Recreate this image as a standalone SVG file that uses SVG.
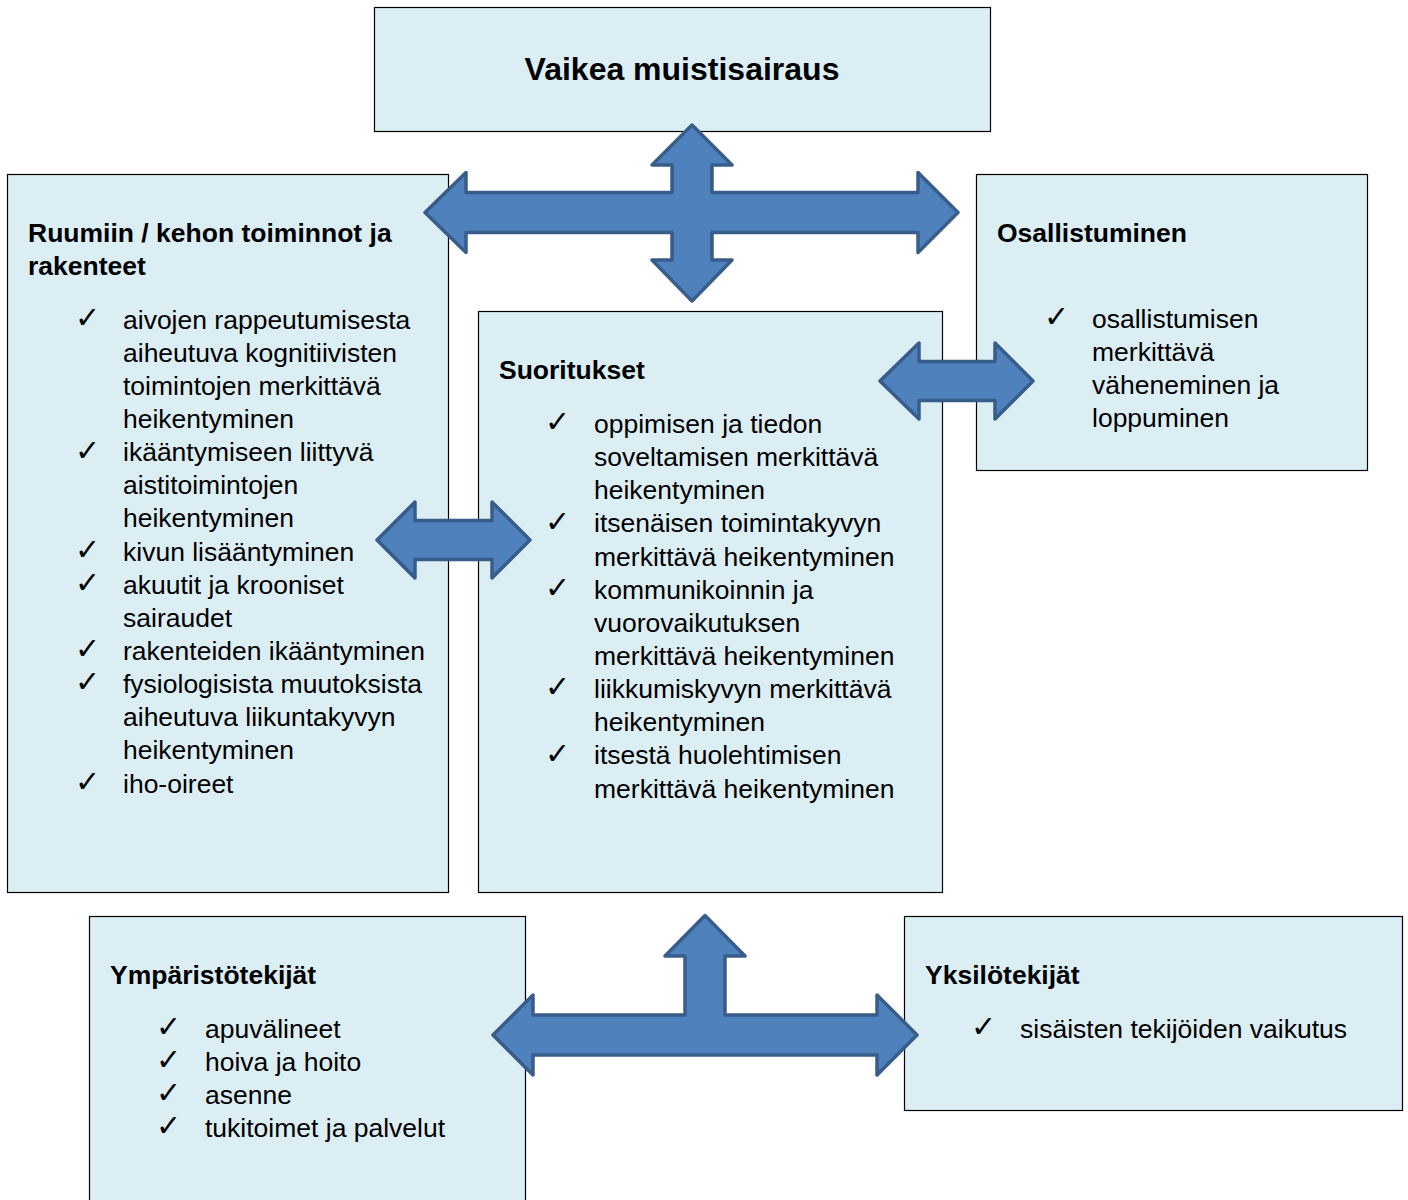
<svg xmlns="http://www.w3.org/2000/svg" width="1408" height="1200" viewBox="0 0 1408 1200">
<style>
.box{fill:#dbeef4;stroke:#000;stroke-width:1.2}
.arrow{fill:#4f81bd;stroke:#385d8a;stroke-width:3.5;stroke-linejoin:round}
text{font-family:"Liberation Sans",Arial,sans-serif;fill:#000}
.title{font-size:32px;font-weight:bold}
.h{font-size:26.5px;font-weight:bold}
.t{font-size:26.5px}
.ck{font-family:"DejaVu Sans",sans-serif;font-size:30px}
</style>
<rect width="1408" height="1200" fill="#fff"/>
<g id="node-title">
<rect class="box" x="374.5" y="7.5" width="616" height="124"/>
<text class="title" x="682" y="80" text-anchor="middle">Vaikea muistisairaus</text>
</g>
<g id="node-ruumiin">
<rect class="box" x="7.5" y="174.5" width="441" height="718"/>
<text class="h" x="28" y="242">Ruumiin / kehon toiminnot ja</text>
<text class="h" x="28" y="275">rakenteet</text>
<g class="ck"><text x="75" y="328">✓</text><text x="75" y="461">✓</text><text x="75" y="560">✓</text><text x="75" y="593">✓</text><text x="75" y="659">✓</text><text x="75" y="692">✓</text><text x="75" y="792">✓</text></g>
<g class="t">
<text x="123" y="328.5">aivojen rappeutumisesta</text>
<text x="123" y="361.6">aiheutuva kognitiivisten</text>
<text x="123" y="394.8">toimintojen merkittävä</text>
<text x="123" y="427.9">heikentyminen</text>
<text x="123" y="461.1">ikääntymiseen liittyvä</text>
<text x="123" y="494.2">aistitoimintojen</text>
<text x="123" y="527.3">heikentyminen</text>
<text x="123" y="560.5">kivun lisääntyminen</text>
<text x="123" y="593.6">akuutit ja krooniset</text>
<text x="123" y="626.8">sairaudet</text>
<text x="123" y="659.9">rakenteiden ikääntyminen</text>
<text x="123" y="693">fysiologisista muutoksista</text>
<text x="123" y="726.2">aiheutuva liikuntakyvyn</text>
<text x="123" y="759.3">heikentyminen</text>
<text x="123" y="792.5">iho-oireet</text>
</g>
</g>
<g id="node-osallistuminen">
<rect class="box" x="976.5" y="174.5" width="391" height="296"/>
<text class="h" x="997" y="242">Osallistuminen</text>
<text class="ck" x="1044" y="327">✓</text>
<g class="t">
<text x="1092" y="328">osallistumisen</text>
<text x="1092" y="361.1">merkittävä</text>
<text x="1092" y="394.3">väheneminen ja</text>
<text x="1092" y="427.4">loppuminen</text>
</g>
</g>
<g id="node-suoritukset">
<rect class="box" x="478.5" y="311.5" width="464" height="581"/>
<text class="h" x="499" y="379">Suoritukset</text>
<g class="ck"><text x="545" y="432">✓</text><text x="545" y="532">✓</text><text x="545" y="598">✓</text><text x="545" y="697">✓</text><text x="545" y="764">✓</text></g>
<g class="t">
<text x="594" y="433">oppimisen ja tiedon</text>
<text x="594" y="466.1">soveltamisen merkittävä</text>
<text x="594" y="499.3">heikentyminen</text>
<text x="594" y="532.4">itsenäisen toimintakyvyn</text>
<text x="594" y="565.6">merkittävä heikentyminen</text>
<text x="594" y="598.7">kommunikoinnin ja</text>
<text x="594" y="631.8">vuorovaikutuksen</text>
<text x="594" y="665">merkittävä heikentyminen</text>
<text x="594" y="698.1">liikkumiskyvyn merkittävä</text>
<text x="594" y="731.3">heikentyminen</text>
<text x="594" y="764.4">itsestä huolehtimisen</text>
<text x="594" y="797.5">merkittävä heikentyminen</text>
</g>
</g>
<g id="node-ymparisto">
<rect class="box" x="89.5" y="916.5" width="436" height="300"/>
<text class="h" x="110" y="984">Ympäristötekijät</text>
<g class="ck"><text x="156" y="1037">✓</text><text x="156" y="1070">✓</text><text x="156" y="1103">✓</text><text x="156" y="1136">✓</text></g>
<g class="t">
<text x="205" y="1038">apuvälineet</text>
<text x="205" y="1071">hoiva ja hoito</text>
<text x="205" y="1104">asenne</text>
<text x="205" y="1137">tukitoimet ja palvelut</text>
</g>
</g>
<g id="node-yksilo">
<rect class="box" x="904.5" y="916.5" width="498" height="194"/>
<text class="h" x="925" y="984">Yksilötekijät</text>
<text class="ck" x="971" y="1037">✓</text>
<text class="t" x="1020" y="1038">sisäisten tekijöiden vaikutus</text>
</g>
<g id="connectors">
<path class="arrow" d="M425,212.5 L466,172.5 L466,192.5 L672,192.5 L672,165 L652,165 L692,125 L732,165 L712,165 L712,192.5 L918,192.5 L918,172.5 L958,212.5 L918,252.5 L918,232.5 L712,232.5 L712,260 L732,260 L692,301 L652,260 L672,260 L672,232.5 L466,232.5 L466,252.5 Z"/>
<path class="arrow" d="M377,540 L415,502 L415,520.5 L492,520.5 L492,502 L530,540 L492,578 L492,559.5 L415,559.5 L415,578 Z"/>
<path class="arrow" d="M880,381 L919,343 L919,361.5 L995,361.5 L995,343 L1033,381 L995,419 L995,400.5 L919,400.5 L919,419 Z"/>
<path class="arrow" d="M493,1035 L533,995 L533,1015 L685,1015 L685,956 L665,956 L705,915.5 L745,956 L725,956 L725,1015 L877,1015 L877,995 L917,1035 L877,1075 L877,1055 L533,1055 L533,1075 Z"/>
</g>
</svg>
